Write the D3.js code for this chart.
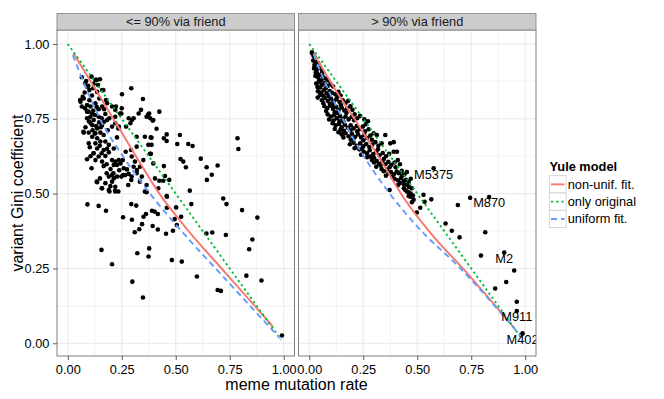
<!DOCTYPE html>
<html><head><meta charset="utf-8">
<script src="https://cdn.jsdelivr.net/npm/d3@7"></script>
<style>body{margin:0;background:#fff} text{font-family:"Liberation Sans",Arial,Helvetica,sans-serif}</style>
</head><body><svg id="c" width="664" height="399"></svg>
<script>
const panelTitles = ["<= 90% via friend", "> 90% via friend"];
const xTicks = [0, 0.25, 0.5, 0.75, 1];
const yTicks = [0, 0.25, 0.5, 0.75, 1];
const modelNames = ["non-unif. fit.", "only original", "uniform fit."];
const modelColors = ["#F8766D", "#00BA38", "#619CFF"];

const leftPoints = [
[0.110,0.891],[0.128,0.880],[0.140,0.863],[0.089,0.857],[0.100,0.846],[0.118,0.852],[0.136,0.840],[0.159,0.846],[0.251,0.832],[0.294,0.852],[0.348,0.816],[0.059,0.807],[0.074,0.818],[0.089,0.796],[0.105,0.791],[0.128,0.802],[0.143,0.782],[0.159,0.791],[0.182,0.802],[0.205,0.791],[0.220,0.780],[0.089,0.774],[0.113,0.768],[0.089,0.752],[0.105,0.757],[0.120,0.746],[0.143,0.757],[0.174,0.766],[0.182,0.746],[0.220,0.757],[0.248,0.768],[0.282,0.752],[0.297,0.746],[0.305,0.752],[0.290,0.735],[0.328,0.768],[0.339,0.780],[0.377,0.768],[0.382,0.752],[0.113,0.729],[0.136,0.718],[0.159,0.729],[0.205,0.724],[0.220,0.735],[0.236,0.724],[0.151,0.704],[0.074,0.704],[0.125,0.701],
[0.065,0.889],[0.085,0.876],[0.134,0.880],[0.149,0.882],[0.057,0.813],[0.069,0.824],[0.165,0.846],[0.177,0.813],[0.223,0.791],[0.065,0.791],[0.096,0.774],[0.126,0.763],[0.157,0.752],[0.106,0.735],[0.131,0.726],[0.153,0.722],[0.072,0.707],
[0.270,0.724],[0.234,0.718],[0.250,0.785],[0.242,0.768],[0.365,0.757],[0.373,0.765],[0.396,0.746],[0.319,0.690],[0.357,0.690],[0.384,0.688],[0.373,0.663],[0.319,0.657],[0.293,0.646],
[0.097,0.704],[0.128,0.702],[0.166,0.696],[0.113,0.690],[0.136,0.685],[0.097,0.668],[0.128,0.668],[0.151,0.674],[0.174,0.674],[0.190,0.663],[0.213,0.651],[0.166,0.646],[0.136,0.651],[0.120,0.635],[0.105,0.625],[0.089,0.615],[0.143,0.624],[0.174,0.626],[0.190,0.638],[0.110,0.585],[0.159,0.607],[0.166,0.592],[0.205,0.612],[0.220,0.607],[0.236,0.612],[0.228,0.596],[0.213,0.596],[0.244,0.601],[0.259,0.585],[0.274,0.581],[0.305,0.590],[0.320,0.579],[0.282,0.566],[0.266,0.562],[0.205,0.562],[0.190,0.557],[0.213,0.551],[0.228,0.557],[0.248,0.557],[0.294,0.546],[0.174,0.535],[0.205,0.540],[0.136,0.538],[0.159,0.518],[0.190,0.512],[0.220,0.507],[0.197,0.525],[0.220,0.523],[0.343,0.557],
[0.350,0.612],[0.334,0.590],[0.311,0.607],[0.296,0.624],[0.157,0.635],[0.119,0.635],[0.134,0.540],[0.149,0.551],[0.180,0.568],[0.211,0.568],[0.257,0.562],[0.296,0.557],[0.319,0.568],[0.334,0.540],[0.365,0.529],[0.280,0.529],[0.157,0.518],[0.234,0.507],
[0.424,0.774],[0.393,0.744],[0.411,0.717],[0.388,0.687],[0.458,0.698],[0.445,0.685],[0.458,0.676],[0.519,0.696],[0.507,0.666],[0.558,0.666],[0.578,0.659],[0.522,0.616],[0.535,0.607],[0.547,0.588],[0.616,0.617],[0.643,0.588],[0.694,0.594],[0.667,0.563],[0.644,0.546],[0.786,0.685],[0.790,0.649],[0.565,0.510],[0.720,0.484],[0.445,0.592],[0.404,0.551],[0.424,0.543],[0.442,0.543],[0.470,0.546],[0.450,0.559],[0.419,0.518],[0.458,0.492],[0.388,0.663],[0.385,0.633],[0.396,0.601],[0.381,0.633],
[0.091,0.464],[0.143,0.459],[0.177,0.443],[0.294,0.465],[0.317,0.460],[0.256,0.421],[0.297,0.413],[0.351,0.423],[0.362,0.432],[0.344,0.398],[0.331,0.381],[0.310,0.371],[0.390,0.443],[0.402,0.440],[0.417,0.432],[0.393,0.392],[0.417,0.380],[0.455,0.366],[0.487,0.376],[0.505,0.395],[0.495,0.415],[0.525,0.423],[0.502,0.454],[0.459,0.490],[0.459,0.453],[0.572,0.465],[0.156,0.312],[0.205,0.264],[0.322,0.301],[0.377,0.317],[0.374,0.290],[0.482,0.278],[0.528,0.273],[0.299,0.206],[0.348,0.153],[0.193,0.507],[0.219,0.510],[0.357,0.507],[0.365,0.505],
[0.735,0.465],[0.807,0.445],[0.878,0.420],[0.642,0.367],[0.669,0.370],[0.732,0.362],[0.855,0.347],[0.840,0.314],[0.598,0.223],[0.694,0.178],[0.709,0.175],[0.827,0.226],[0.897,0.210],[0.992,0.026],
[0.080,0.868],[0.095,0.860],[0.122,0.868],[0.078,0.838],[0.112,0.828],[0.146,0.818],[0.100,0.812],[0.080,0.785],[0.134,0.790],[0.168,0.782],[0.118,0.778],[0.098,0.742],[0.168,0.740],[0.192,0.752],[0.145,0.738],[0.082,0.722],[0.185,0.712],[0.115,0.712],[0.102,0.655],[0.148,0.660],[0.182,0.650],[0.128,0.612],[0.198,0.582],[0.180,0.598],[0.238,0.578],[0.255,0.612],[0.268,0.640],[0.228,0.688]
];

const rightPoints = [
[0.012,0.972],[0.014,0.968],[0.020,0.960],[0.026,0.955],
[0.018,0.945],[0.030,0.940],[0.041,0.936],[0.025,0.932],
[0.022,0.918],[0.035,0.915],[0.048,0.920],[0.060,0.910],[0.030,0.905],
[0.028,0.893],[0.040,0.890],[0.052,0.897],[0.066,0.888],[0.078,0.884],[0.045,0.880],
[0.032,0.868],[0.044,0.872],[0.058,0.863],[0.070,0.869],[0.085,0.860],[0.098,0.866],[0.110,0.858],[0.050,0.855],
[0.040,0.842],[0.055,0.838],[0.068,0.846],[0.080,0.835],[0.094,0.843],[0.106,0.837],[0.120,0.832],[0.135,0.840],[0.145,0.828],[0.062,0.828],
[0.039,0.821],[0.058,0.812],[0.072,0.820],[0.086,0.810],[0.100,0.818],[0.112,0.808],[0.125,0.815],[0.140,0.806],[0.155,0.812],[0.168,0.803],[0.180,0.810],[0.095,0.800],
[0.070,0.792],[0.084,0.786],[0.098,0.794],[0.110,0.783],[0.124,0.790],[0.136,0.780],[0.150,0.788],[0.162,0.778],[0.176,0.785],[0.190,0.792],[0.200,0.780],[0.118,0.772],
[0.085,0.765],[0.100,0.758],[0.115,0.762],[0.128,0.752],[0.142,0.760],[0.155,0.750],[0.168,0.758],[0.182,0.748],[0.196,0.756],[0.210,0.765],[0.222,0.752],[0.235,0.760],[0.140,0.742],
[0.108,0.735],[0.122,0.728],[0.138,0.733],[0.150,0.722],[0.165,0.730],[0.178,0.720],[0.192,0.728],[0.205,0.718],[0.220,0.726],[0.234,0.716],[0.248,0.724],[0.262,0.732],[0.275,0.715],[0.160,0.710],
[0.135,0.705],[0.150,0.698],[0.168,0.702],[0.182,0.692],[0.198,0.700],[0.212,0.690],[0.226,0.698],[0.240,0.688],[0.255,0.696],[0.268,0.686],[0.283,0.694],[0.298,0.702],[0.313,0.696],[0.352,0.696],[0.192,0.680],
[0.188,0.665],[0.205,0.670],[0.220,0.660],[0.236,0.668],[0.250,0.658],[0.264,0.666],[0.278,0.656],[0.292,0.664],[0.306,0.672],[0.320,0.660],[0.335,0.668],[0.375,0.668],[0.232,0.648],
[0.252,0.640],[0.267,0.635],[0.282,0.624],[0.296,0.632],[0.310,0.640],[0.325,0.628],[0.340,0.636],[0.355,0.625],[0.370,0.633],[0.391,0.640],[0.268,0.622],
[0.290,0.612],[0.300,0.604],[0.312,0.610],[0.322,0.600],[0.338,0.608],[0.352,0.598],[0.366,0.606],[0.380,0.596],[0.395,0.604],[0.410,0.612],[0.420,0.598],[0.310,0.590],
[0.335,0.582],[0.345,0.575],[0.360,0.580],[0.367,0.568],[0.378,0.572],[0.392,0.565],[0.405,0.574],[0.414,0.568],[0.428,0.576],[0.440,0.564],[0.452,0.572],[0.355,0.560],
[0.395,0.550],[0.410,0.545],[0.425,0.552],[0.438,0.542],[0.448,0.546],[0.460,0.540],[0.470,0.550],[0.455,0.529],[0.475,0.518],[0.440,0.530],[0.420,0.535],
[0.445,0.512],[0.460,0.505],[0.470,0.500],[0.452,0.507],[0.480,0.494],[0.460,0.492],[0.468,0.490],[0.483,0.480],[0.475,0.471],[0.372,0.512],
[0.529,0.496],[0.565,0.481],[0.534,0.473],[0.514,0.453],[0.498,0.437],[0.576,0.585],[0.391,0.672],[0.406,0.640],[0.688,0.462],[0.745,0.486],[0.833,0.489],[0.631,0.400],[0.660,0.376],[0.696,0.354],[0.815,0.371],[0.795,0.293],[0.903,0.303],[0.949,0.243],[0.912,0.205],[0.861,0.183],[0.961,0.139],[0.961,0.108],[0.988,0.033],[0.981,0.028],
[0.024,0.925],[0.036,0.902],[0.056,0.878],[0.038,0.856],[0.076,0.852],[0.090,0.826],[0.050,0.830],[0.130,0.824],[0.065,0.802],[0.108,0.796],[0.146,0.796],[0.078,0.776],[0.130,0.770],[0.172,0.770],[0.092,0.748],[0.112,0.744],[0.158,0.740],[0.208,0.745],[0.118,0.716],[0.145,0.714],[0.190,0.712],[0.222,0.708],[0.258,0.708],[0.158,0.688],[0.205,0.684],[0.250,0.678],[0.290,0.680],[0.210,0.652],[0.245,0.650],[0.280,0.645],[0.318,0.648],[0.240,0.630],[0.300,0.620],[0.345,0.616],[0.330,0.594],[0.372,0.588],[0.400,0.588],[0.385,0.556],[0.430,0.560],[0.410,0.528],[0.462,0.522],[0.438,0.518],[0.255,0.748],[0.272,0.742],[0.060,0.900],[0.088,0.878]
];

const leftNonUnif = [[0.026,0.969],[0.12,0.858],[0.211,0.75],[0.32,0.62],[0.424,0.5],[0.542,0.39],[0.727,0.238],[0.95,0.056]];
const leftOriginal = [[0,1],[0.988,0.012]];
const leftUniform = [[0.023,0.963],[0.08,0.86],[0.149,0.75],[0.26,0.62],[0.37,0.51],[0.55,0.356],[0.727,0.217],[0.982,0.017]];
const rightNonUnif = [[0.02,0.969],[0.11,0.86],[0.209,0.75],[0.32,0.625],[0.444,0.479],[0.56,0.37],[0.73,0.235],[0.95,0.05]];
const rightOriginal = [[0,1],[0.985,0.015]];
const rightUniform = [[0.02,0.965],[0.08,0.86],[0.155,0.75],[0.244,0.635],[0.36,0.512],[0.5,0.39],[0.70,0.25],[0.985,0.02]];

const labelNames = ["M5375","M870","M2","M911","M402"];
const labelX = [0.576,0.833,0.903,0.961,0.988];
const labelY = [0.585,0.489,0.303,0.108,0.033];

const svg = d3.select("#c");
const pTop = 30, pBottom = 356, panelW = 237.5, stripTop = 13.5;
const panelLefts = [57, 298.5];
const y = d3.scaleLinear().domain([-0.0425, 1.0468]).range([pBottom, pTop]);
const minor = [0.125, 0.375, 0.625, 0.875];
const dashes = [null, "2.2,3", "6,4"];

const panelData = [
  {pts: leftPoints, lines: [leftNonUnif, leftOriginal, leftUniform], labels: false},
  {pts: rightPoints, lines: [rightNonUnif, rightOriginal, rightUniform], labels: true}
];

panelData.forEach((pd, i) => {
  const L = panelLefts[i];
  const x = d3.scaleLinear().domain([-0.05, 1.05]).range([L, L + panelW]);
  const g = svg.append("g");
  const cid = "clip" + i;
  svg.append("clipPath").attr("id", cid).append("rect")
    .attr("x", L).attr("y", pTop).attr("width", panelW).attr("height", pBottom - pTop);
  g.append("rect").attr("x", L).attr("y", pTop).attr("width", panelW).attr("height", pBottom - pTop).attr("fill", "#fff");
  g.selectAll(".mx").data(minor).join("line").attr("x1", d => x(d)).attr("x2", d => x(d))
    .attr("y1", pTop).attr("y2", pBottom).attr("stroke", "#f4f4f4").attr("stroke-width", 1.2);
  g.selectAll(".my").data(minor).join("line").attr("y1", d => y(d)).attr("y2", d => y(d))
    .attr("x1", L).attr("x2", L + panelW).attr("stroke", "#f4f4f4").attr("stroke-width", 1.2);
  g.selectAll(".gx").data(xTicks).join("line").attr("x1", d => x(d)).attr("x2", d => x(d))
    .attr("y1", pTop).attr("y2", pBottom).attr("stroke", "#e3e3e3").attr("stroke-width", 0.8);
  g.selectAll(".gy").data(yTicks).join("line").attr("y1", d => y(d)).attr("y2", d => y(d))
    .attr("x1", L).attr("x2", L + panelW).attr("stroke", "#e3e3e3").attr("stroke-width", 0.8);
  const inner = g.append("g").attr("clip-path", `url(#${cid})`);
  inner.selectAll("circle").data(pd.pts).join("circle")
    .attr("cx", d => x(d[0])).attr("cy", d => y(d[1])).attr("r", 2.3).attr("fill", "#000");
  const line = d3.line().x(d => x(d[0])).y(d => y(d[1])).curve(d3.curveMonotoneX);
  pd.lines.forEach((ln, k) => {
    inner.append("path").attr("d", line(ln)).attr("fill", "none")
      .attr("stroke", modelColors[k]).attr("stroke-width", 1.9)
      .attr("stroke-dasharray", dashes[k]);
  });
  if (pd.labels) {
    inner.selectAll("text.lab").data(labelNames).join("text").attr("class", "lab")
      .attr("x", (d, j) => x(labelX[j])).attr("y", (d, j) => y(labelY[j]) + 10.3)
      .attr("text-anchor", "middle").attr("font-size", "12.8px").attr("fill", "#000").text(d => d);
  }
  g.append("rect").attr("x", L).attr("y", pTop).attr("width", panelW).attr("height", pBottom - pTop)
    .attr("fill", "none").attr("stroke", "#7f7f7f").attr("stroke-width", 1);
  g.append("rect").attr("x", L).attr("y", stripTop).attr("width", panelW).attr("height", pTop - stripTop)
    .attr("fill", "#cccccc").attr("stroke", "#7f7f7f").attr("stroke-width", 0.8);
  g.append("text").attr("x", L + panelW / 2).attr("y", 26.3).attr("text-anchor", "middle")
    .attr("font-size", "12.8px").attr("fill", "#1a1a1a").text(panelTitles[i]);
  const ax = svg.append("g").attr("transform", `translate(0,${pBottom})`)
    .call(d3.axisBottom(x).tickValues(xTicks).tickFormat(d3.format(".2f")).tickSize(4).tickPadding(5));
  ax.select(".domain").remove();
  ax.selectAll("line").attr("stroke", "#333").attr("stroke-width", 0.8);
  ax.selectAll("text").attr("font-size", "12.8px").attr("fill", "#000")
    .style("font-family", '"Liberation Sans",Arial,sans-serif');
});

const ay = svg.append("g").attr("transform", `translate(${panelLefts[0]},0)`)
  .call(d3.axisLeft(y).tickValues(yTicks).tickFormat(d3.format(".2f")).tickSize(4).tickPadding(3.5));
ay.select(".domain").remove();
ay.selectAll("line").attr("stroke", "#333").attr("stroke-width", 0.8);
ay.selectAll("text").attr("font-size", "12.8px").attr("fill", "#000")
  .style("font-family", '"Liberation Sans",Arial,sans-serif');

svg.append("text").attr("x", 296.5).attr("y", 390).attr("text-anchor", "middle")
  .attr("font-size", "16px").attr("fill", "#000").text("meme mutation rate");
svg.append("text").attr("transform", "translate(23.3,193) rotate(-90)").attr("text-anchor", "middle")
  .attr("font-size", "16px").attr("fill", "#000").text("variant Gini coefficient");

const lg = svg.append("g");
lg.append("text").attr("x", 549.5).attr("y", 170.5).attr("font-size", "12.8px").attr("font-weight", "bold")
  .attr("fill", "#000").text("Yule model");
modelNames.forEach((nm, k) => {
  const ky = 175.7 + k * 17.3;
  lg.append("rect").attr("x", 549.3).attr("y", ky).attr("width", 16.8).attr("height", 17.3)
    .attr("fill", "#fff").attr("stroke", "#cccccc").attr("stroke-width", 0.8);
  lg.append("line").attr("x1", 551).attr("x2", 564.5).attr("y1", ky + 8.65).attr("y2", ky + 8.65)
    .attr("stroke", modelColors[k]).attr("stroke-width", 1.9).attr("stroke-dasharray", dashes[k]);
  lg.append("text").attr("x", 567.7).attr("y", ky + 13).attr("font-size", "12.8px").attr("fill", "#000").text(nm);
});
</script></body></html>
